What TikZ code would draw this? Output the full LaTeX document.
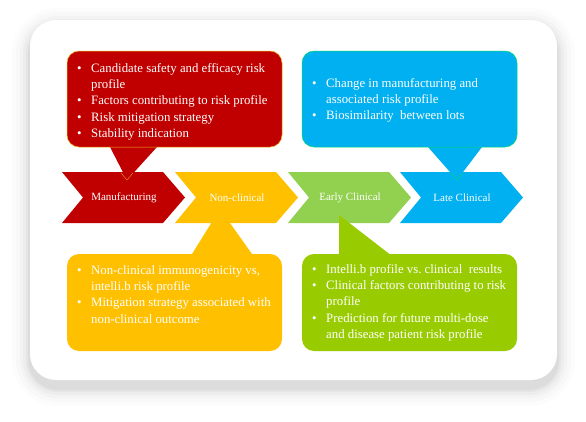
\documentclass[tikz,border=0pt]{standalone}
\usepackage{fontspec}
\setmainfont{Liberation Serif}
\definecolor{cRed}{HTML}{C00000}
\definecolor{cYel}{HTML}{FFC000}
\definecolor{cGrn}{HTML}{92D050}
\definecolor{cLime}{HTML}{99CC00}
\definecolor{cBlu}{HTML}{00B0F0}
\newcommand{\bl}{\hspace{1pt}\textbullet}
\newenvironment{blist}{\begin{tabular}{@{}p{15pt}@{}l@{}}}{\end{tabular}}
\tikzset{
  calltext/.style={anchor=north west, inner sep=0pt, text=white,
     font=\fontsize{12.8}{16.2}\selectfont},
  chevlabel/.style={text=white, font=\fontsize{11}{13}\selectfont, inner sep=0pt},
}
\begin{document}
\begin{tikzpicture}[x=1pt,y=-1pt]
\useasboundingbox (0,0) rectangle (586,421);
\fill[white] (0,0) rectangle (586,421);
% card shadow
\foreach \s/\o in {18/0.012,14/0.015,10/0.02,7/0.025,4/0.03,2/0.035}{
  \fill[black,opacity=\o,rounded corners=28+\s] (30-\s,26-\s) rectangle (557+\s,388+\s);
}
\fill[white,rounded corners=26] (30,20) rectangle (557,380);
% callouts top
\fill[cRed] (110,147) -- (127,180) -- (157,147) -- cycle;
\filldraw[fill=cRed,draw=yellow!70!cRed,line width=0.5pt,rounded corners=12] (67,51) rectangle (282,147);
\fill[cBlu] (428,147) -- (457,180) -- (482,147) -- cycle;
\filldraw[fill=cBlu,draw=green!60!cBlu,line width=0.5pt,rounded corners=12] (302,51) rectangle (517,147);
% chevrons
\foreach \L/\c in {62/cRed,175/cYel,288/cGrn,400/cBlu}{
  \fill[\c] (\L,172) -- (\L+101,172) -- (\L+123,197.5) -- (\L+101,223) -- (\L,223) -- (\L+21,197.5) -- cycle;
}
% pointer tips overlaid on chevrons
\fill[cRed] (120,172) -- (127,180) -- (134,172) -- cycle;
\draw[yellow!60!cRed,line width=0.4pt] (121,173) -- (127,180) -- (133,173);
\fill[cBlu] (450,172) -- (457,180) -- (464,172) -- cycle;
\draw[green!60!cBlu,line width=0.4pt] (451,173) -- (457,180) -- (463,173);
% callouts bottom
\fill[cYel] (192,254) -- (220,209) -- (252,254) -- cycle;
\fill[rounded corners=12,cYel] (67,254) rectangle (282,351);
\fill[cLime] (339,256) -- (339,215) -- (392,256) -- cycle;
\fill[rounded corners=12,cLime] (302,254) rectangle (517,351);
% chevron labels
\node[chevlabel] (manuf) at (124,197.5) {Manufacturing};
\node[chevlabel] (noncl) at (237,197.5) {Non-clinical};
\node[chevlabel] (early) at (350,197.5) {Early Clinical};
\node[chevlabel] (late)  at (462,197.5) {Late Clinical};
% callout texts
\node[calltext] (redtxt) at (76,61) {\begin{blist}
  \bl & Candidate safety and efficacy risk\\
      & profile\\
  \bl & Factors contributing to risk profile\\
  \bl & Risk mitigation strategy\\
  \bl & Stability indication
  \end{blist}};
\node[calltext] (blutxt) at (311,76) {\begin{blist}
  \bl & Change in manufacturing and\\
      & associated risk profile\\
  \bl & Biosimilarity\ \ between lots
  \end{blist}};
\node[calltext] (yeltxt) at (76,263) {\begin{blist}
  \bl & Non-clinical immunogenicity vs,\\
      & intelli.b risk profile\\
  \bl & Mitigation strategy associated with\\
      & non-clinical outcome
  \end{blist}};
\node[calltext] (grntxt) at (311,262) {\begin{blist}
  \bl & Intelli.b profile vs.\ clinical\ \ results\\
  \bl & Clinical factors contributing to risk\\
      & profile\\
  \bl & Prediction for future multi-dose\\
      & and disease patient risk profile
  \end{blist}};
\end{tikzpicture}
\end{document}
